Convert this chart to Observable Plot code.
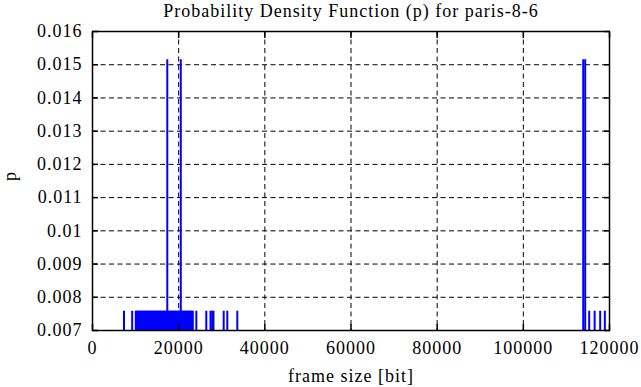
<!DOCTYPE html>
<html>
<head>
<meta charset="utf-8">
<script src="https://cdn.jsdelivr.net/npm/d3@7"></script>
<script src="https://cdn.jsdelivr.net/npm/@observablehq/plot@0.6"></script>
<style>
  html, body { margin: 0; padding: 0; background: #fff; }
  #chart svg { display: block; }
</style>
</head>
<body>
<div id="chart"></div>
<script>
const titleText = "Probability Density Function (p) for paris-8-6";
const xLabel = "frame size [bit]";
const yLabel = "p";

// probability values
const pLow = 0.00758;   // frame sizes seen once
const pHigh = 0.01515;  // frame sizes seen twice

// frame sizes [bit] with p = pLow
const lowSizes = [
  7310, 9210,
  10050, 10260, 10490, 10720, 10930, 11140, 11380, 11590, 11800, 12040,
  12250, 12470, 12680, 12910, 13120, 13360, 13570, 13780, 14010, 14230,
  14440, 14670, 14890, 15100, 15330, 15540, 15780, 15990, 16200, 16440,
  16650, 16860, 17100, 17540, 17760, 17970, 18200, 18410, 18640, 18850,
  19060, 19290, 19500, 19730, 19940, 20170, 20640, 20830, 21060, 21270,
  21480, 21720, 21930, 22160, 22370, 22580, 22810, 23030, 23280,
  24100, 26410, 27390, 27780, 28080, 30450, 31290, 33610,
  115290, 116550, 117840, 118920
];
// frame sizes [bit] with p = pHigh
const highSizes = [17360, 20490, 113900, 114360];

const xTicks = [0, 20000, 40000, 60000, 80000, 100000, 120000];
const yTicks = [0.007, 0.008, 0.009, 0.01, 0.011, 0.012, 0.013, 0.014, 0.015, 0.016];

const data = [
  ...lowSizes.map(x => ({x, p: pLow})),
  ...highSizes.map(x => ({x, p: pHigh}))
];
const yMin = yTicks[0];

const font = "'Liberation Serif', 'Times New Roman', serif";
const dash = "5,3.5";
const xFmt = d => String(d);
const yFmt = d => String(+d.toFixed(3));

const chart = Plot.plot({
  width: 641,
  height: 387,
  marginLeft: 92,
  marginRight: 32,
  marginTop: 31,
  marginBottom: 57,
  style: {fontFamily: font, fontSize: "18px", letterSpacing: "1px", background: "#fff", color: "#000"},
  x: {type: "linear", domain: [0, 120000]},
  y: {type: "linear", domain: [0.007, 0.016]},
  marks: [
    // dashed grid
    Plot.ruleX(xTicks.slice(1, -1), {stroke: "#000", strokeWidth: 1, strokeDasharray: dash}),
    Plot.ruleY(yTicks.slice(1, -1), {stroke: "#000", strokeWidth: 1, strokeDasharray: dash}),
    // impulses
    Plot.ruleX(data, {x: "x", y1: yMin, y2: "p", stroke: "#0000ff", strokeWidth: 2}),
    Plot.frame({stroke: "#000", strokeWidth: 1.5}),
    Plot.axisX({ticks: xTicks, tickFormat: xFmt, tickSize: 0, tickPadding: 11, fontSize: 18, label: null}),
    Plot.axisY({ticks: yTicks, tickFormat: yFmt, tickSize: 0, tickPadding: 10, fontSize: 18, label: null}),
    // inward tick marks
    Plot.axisX({ticks: xTicks, anchor: "bottom", tickSize: -6, text: null, label: null, strokeWidth: 1.5}),
    Plot.axisX({ticks: xTicks, anchor: "top", tickSize: -6, text: null, label: null, strokeWidth: 1.5}),
    Plot.axisY({ticks: yTicks, anchor: "left", tickSize: -6, text: null, label: null, strokeWidth: 1.5}),
    Plot.axisY({ticks: yTicks, anchor: "right", tickSize: -6, text: null, label: null, strokeWidth: 1.5}),
    // labels
    Plot.text([titleText], {frameAnchor: "top", lineAnchor: "middle", dy: -20, fontSize: 18, text: d => d}),
    Plot.text([xLabel], {frameAnchor: "bottom", lineAnchor: "middle", dy: 46, fontSize: 18, text: d => d}),
    Plot.text([yLabel], {frameAnchor: "left", lineAnchor: "middle", dx: -82, rotate: -90, fontSize: 18, text: d => d})
  ]
});
document.getElementById("chart").appendChild(chart);
</script>
</body>
</html>
